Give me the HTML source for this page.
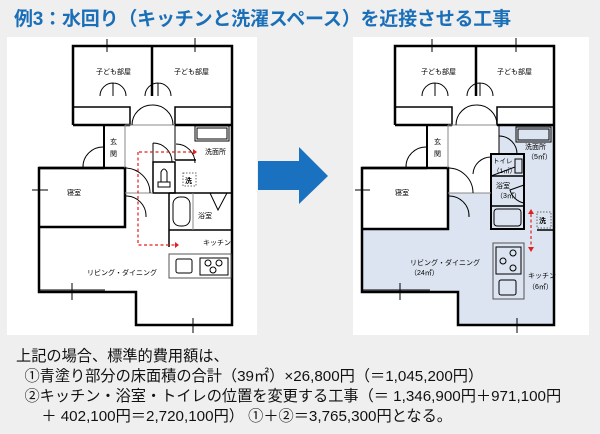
<!DOCTYPE html>
<html><head><meta charset="utf-8"><style>
body{margin:0;width:600px;height:434px;background:#efefef;overflow:hidden;font-family:"Liberation Sans","Noto Sans CJK JP",sans-serif;}
svg{position:absolute;left:0;top:0}
.t{position:absolute;left:14px;top:4px;font-size:19px;font-weight:bold;color:#1a6fb8;white-space:nowrap;letter-spacing:-0.2px}
.b{position:absolute;left:16px;top:347px;font-size:15.2px;line-height:20px;color:#111;white-space:nowrap}
</style></head><body>
<div class="t">例3：水回り（キッチンと洗濯スペース）を近接させる工事</div>
<svg width="600" height="434" font-family="Liberation Sans, Noto Sans CJK JP, sans-serif" font-size="7" fill="none" stroke="#000">
<rect x="7" y="37" width="250" height="298" fill="#fff" stroke="none"/>
<rect x="353" y="37" width="236" height="298" fill="#fff" stroke="none"/>
<polygon points="258,161 299,161 299,147 328,176 299,204 299,190 258,190" fill="#1a71c0" stroke="none"/>
<g stroke-width="1">
<polyline points="73,125 73,46 232,46 232,325 136,325 136,292 39,292 39,168 104,168" stroke-width="2.5"/>
<line x1="152" y1="46" x2="152" y2="96" stroke-width="2.5"/>
<polyline points="73,125 130,125 130,107 73,107" stroke-width="1.5"/>
<polyline points="232,125 175,125 175,107 232,107" stroke-width="1.5"/>
<line x1="73" y1="125" x2="130" y2="125" stroke-width="2.5"/>
<line x1="175" y1="125" x2="232" y2="125" stroke-width="2.5"/>
<polyline points="39,168 125,168 125,227 39,227" stroke-width="2.5"/>
<line x1="104" y1="125" x2="104" y2="168" stroke-width="2"/>
<line x1="125" y1="125" x2="125" y2="168" stroke="#888"/>
<line x1="125" y1="125" x2="175" y2="125" stroke="#888"/>
<line x1="175" y1="125" x2="175" y2="160"/>
<rect x="153" y="162" width="22" height="31" stroke-width="1.5"/>
<line x1="125" y1="193" x2="153" y2="193" stroke="#888"/>
<line x1="175" y1="160" x2="196" y2="160" stroke-width="1.5"/>
<line x1="169" y1="193" x2="232" y2="193" stroke-width="1.5"/>
<line x1="169" y1="193" x2="169" y2="247" stroke-width="1.5"/>
<line x1="169" y1="230" x2="232" y2="230" stroke-width="1.5"/>
<line x1="193" y1="193" x2="193" y2="230" stroke="#888"/>
<rect x="173" y="197" width="17" height="29" rx="7"/>
<rect x="195" y="126" width="34" height="15"/><rect x="197" y="128" width="30" height="11"/>
<rect x="169" y="254" width="62" height="24" stroke="#555"/>
<rect x="176" y="259" width="16" height="14" rx="2"/>
<rect x="200" y="258" width="28" height="17"/>
<circle cx="208" cy="263" r="3"/><circle cx="219" cy="263" r="3"/><circle cx="213" cy="270" r="3"/>
<rect x="183" y="173" width="13" height="13" stroke-dasharray="1.5,1.5" stroke="#666"/>
<rect x="158" y="182" width="12" height="5"/><path d="M161 182 L161 172 Q164 166 167 172 L167 182"/>
<path d="M132 125 A20 20 0 0 1 152 105 M152 105 A20 20 0 0 1 173 125"/>
<path d="M100 96 A13 13 0 0 1 113 83 L113 96 M113 83 A13 13 0 0 1 126 96 M145 96 A13 13 0 0 1 158 83 L158 96 M158 83 A13 13 0 0 1 171 96"/>
<path d="M83 168 A20 20 0 0 1 104 147 L104 168"/>
<path d="M125 168 A25 25 0 0 1 150 193"/>
<path d="M125 194 L125 210 M125 196 A20 20 0 0 1 146 217"/>
<path d="M153 143 L153 162 M153 143 A19 19 0 0 1 172 162"/>
<path d="M176 144 A19 19 0 0 1 195 163"/>
<path d="M210 193 L218 210 L227 193"/>
<path d="M107 39 L107 52 M100 46 L115 46 M195 38 L195 52 M188 46 L203 46 M32 190 L48 190 M39 180 L39 200 M72 283 L72 300 M39 290 L105 290 M193 318 L193 333 M176 325 L210 325"/>
<path d="M139 152 L193 152 M138 152 L138 245 L175 245" stroke="#e02020" stroke-dasharray="3,2.5" stroke-width="1.2"/>
<path d="M193 149 L197 152 L193 155 Z M175 242 L179 245 L175 248Z" fill="#e02020" stroke="none"/>
</g>
<g stroke-width="1">
<polygon points="499,125 554,125 554,325 458,325 458,292 362,292 362,229 448,229 448,193 491,193 491,154 499,154" fill="#dbe4f0" stroke="none"/>
<polyline points="395,125 395,46 554,46 554,325 458,325 458,292 362,292 362,168 427,168" stroke-width="2.5"/>
<line x1="476" y1="46" x2="476" y2="96" stroke-width="2.5"/>
<polyline points="395,125 452,125 452,107 395,107" stroke-width="1.5"/>
<polyline points="554,125 497,125 497,107 554,107" stroke-width="1.5"/>
<line x1="395" y1="125" x2="452" y2="125" stroke-width="2.5"/>
<line x1="497" y1="125" x2="554" y2="125" stroke-width="2.5"/>
<polyline points="362,168 448,168 448,229 362,229" stroke-width="2.5"/>
<line x1="427" y1="125" x2="427" y2="168" stroke-width="2"/>
<line x1="448" y1="125" x2="448" y2="168" stroke="#888"/>
<line x1="448" y1="125" x2="497" y2="125" stroke="#888"/>
<line x1="499" y1="125" x2="499" y2="154"/>
<rect x="491" y="154" width="33" height="75" stroke-width="2"/>
<line x1="491" y1="176" x2="524" y2="176" stroke-width="1.5"/>
<line x1="491" y1="206" x2="524" y2="206" stroke-width="1.5"/>
<line x1="448" y1="193" x2="491" y2="193" stroke="#888"/>
<rect x="515" y="159" width="7" height="14"/>
<rect x="494" y="209" width="27" height="17" rx="3"/>
<rect x="516" y="127" width="35" height="15"/><rect x="518" y="129" width="31" height="11"/>
<rect x="493" y="243" width="31" height="56" stroke="#555"/>
<rect x="496" y="247" width="25" height="27"/>
<circle cx="513" cy="253" r="3"/><circle cx="503" cy="261" r="3"/><circle cx="513" cy="268" r="3"/>
<rect x="499" y="280" width="17" height="15" rx="2"/>
<rect x="537" y="212" width="14" height="16" stroke-dasharray="1.5,1.5" stroke="#666"/>
<line x1="537" y1="230" x2="554" y2="230" stroke-width="1.5"/>
<path d="M456 125 A20 20 0 0 1 476 105 M476 105 A20 20 0 0 1 497 125"/>
<path d="M422 96 A13 13 0 0 1 435 83 L435 96 M435 83 A13 13 0 0 1 448 96 M467 96 A13 13 0 0 1 480 83 L480 96 M480 83 A13 13 0 0 1 493 96"/>
<path d="M406 168 A20 20 0 0 1 427 147 L427 168"/>
<path d="M448 168 A25 25 0 0 1 473 193"/>
<path d="M448 195 L448 210 M448 196 A20 20 0 0 1 469 217"/>
<path d="M499 136 A18 18 0 0 1 517 154"/>
<path d="M473 174 A18 18 0 0 1 491 157 M491 176 L515 167"/>
<path d="M524 185 L510 190 A18 18 0 0 0 524 203"/>
<path d="M432 39 L432 52 M425 46 L440 46 M516 38 L516 52 M509 46 L524 46 M355 190 L370 190 M362 180 L362 200 M400 283 L400 300 M362 290 L430 290 M517 318 L517 333 M500 325 L535 325"/>
<path d="M531 214 L531 247" stroke="#e02020" stroke-dasharray="3,2.5" stroke-width="1.2"/>
<path d="M528 214 L531 209 L534 214Z M528 247 L531 252 L534 247Z" fill="#e02020" stroke="none"/>
</g>
<g fill="#000" stroke="none">
<text x="96" y="74">子ども部屋</text><text x="174" y="74">子ども部屋</text>
<text x="110" y="144">玄</text><text x="110" y="156">関</text>
<text x="205" y="154">洗面所</text><text x="67" y="195">寝室</text>
<text x="198" y="218">浴室</text><text x="203" y="245">キッチン</text>
<text x="87" y="275">リビング・ダイニング</text>
<text x="185" y="183" font-weight="bold" font-size="7">洗</text>
<text x="421" y="74">子ども部屋</text><text x="497" y="74">子ども部屋</text>
<text x="434" y="144">玄</text><text x="434" y="156">関</text>
<text x="525" y="149">洗面所</text><text x="527" y="159">（5㎡）</text>
<text x="395" y="195">寝室</text>
<text x="493" y="163" font-size="6.5">トイレ</text><text x="493" y="173" font-size="6.5">（1㎡）</text>
<text x="496" y="188">浴室</text><text x="496" y="198">（3㎡）</text>
<text x="410" y="265">リビング・ダイニング</text><text x="410" y="275">（24㎡）</text>
<text x="528" y="278">キッチン</text><text x="528" y="289">（6㎡）</text>
<text x="539" y="223" font-weight="bold">洗</text>
</g>
</svg>
<div class="b">上記の場合、標準的費用額は、<br>&nbsp;&nbsp;①青塗り部分の床面積の合計（39㎡）×26,800円（＝1,045,200円）<br>&nbsp;&nbsp;②キッチン・浴室・トイレの位置を変更する工事（＝ 1,346,900円＋971,100円<br>&nbsp;&nbsp;&nbsp;&nbsp;&nbsp;&nbsp;＋ 402,100円＝2,720,100円） ①＋②＝3,765,300円となる。</div>
</body></html>
